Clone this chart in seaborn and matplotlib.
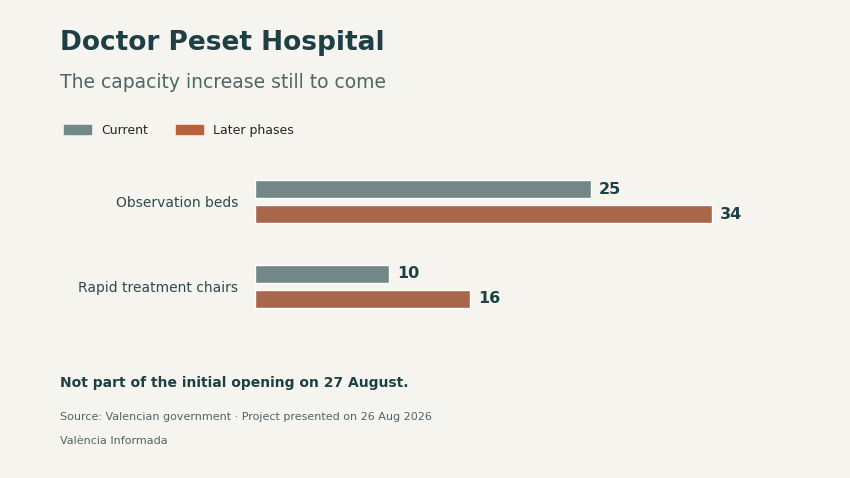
import matplotlib
matplotlib.use("Agg")
import matplotlib.pyplot as plt
import seaborn as sns
import pandas as pd
from matplotlib.patches import Patch

categories = ["Observation beds", "Rapid treatment chairs"]
series = ["Current", "Later phases"]
current = [25, 10]
later = [34, 16]

df = pd.DataFrame({
    "cat": categories * 2,
    "phase": [series[0]] * 2 + [series[1]] * 2,
    "val": current + later,
})

bg = "#f5f4ef"
grey = "#708a8a"
orange = "#b8613a"
dark = "#1e4045"

sns.set_theme(style="white")
plt.rcParams['font.family'] = ['DejaVu Sans']
fig = plt.figure(figsize=(8.5, 4.78), dpi=100, facecolor=bg)
ax = fig.add_axes([0.3, 0.296, 0.632, 0.387], facecolor=bg)
sns.barplot(data=df, y="cat", x="val", hue="phase", orient="h",
            palette=[grey, orange], width=0.595, gap=0.28, ax=ax, legend=False)
ax.set_xlim(0, 40)
ax.set_ylim(1.6, -0.6)
ax.set_xlabel(""); ax.set_ylabel("")
ax.set_xticks([])
for s in ax.spines.values():
    s.set_visible(False)
ax.tick_params(axis="y", length=0, pad=12, labelsize=10, labelcolor="#2e4a4d")
for c in ax.containers:
    ax.bar_label(c, padding=6, fontsize=11.5, fontweight="bold", color=dark)

fig.text(0.07, 0.91, "Doctor Peset Hospital", fontsize=19, fontweight="bold", color=dark, va="center")
fig.text(0.07, 0.828, "The capacity increase still to come", fontsize=13.5, color="#4f6566", va="center")
fig.legend(handles=[Patch(color=grey, label=series[0]), Patch(color=orange, label=series[1])],
           loc="center left", bbox_to_anchor=(0.062, 0.727), ncol=2, frameon=False,
           fontsize=9, handlelength=2.2, handleheight=0.7, columnspacing=2.2)
fig.text(0.07, 0.199, "Not part of the initial opening on 27 August.", fontsize=10, fontweight="bold", color=dark, va="center")
fig.text(0.07, 0.128, "Source: Valencian government · Project presented on 26 Aug 2026", fontsize=8, color="#4f6566", va="center")
fig.text(0.07, 0.078, "València Informada", fontsize=8, color="#4f6566", va="center")
fig.savefig("out.png", facecolor=bg)
